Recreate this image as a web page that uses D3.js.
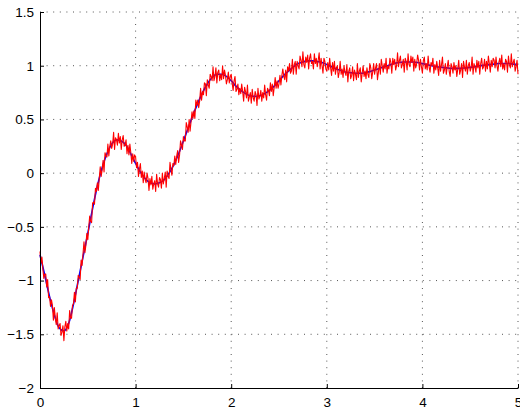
<!DOCTYPE html>
<html><head><meta charset="utf-8">
<script src="https://cdn.jsdelivr.net/npm/d3@7"></script>
<style>
html,body{margin:0;padding:0;background:#fff;}
svg{display:block;}
text{font-family:"Liberation Sans",Arial,Helvetica,sans-serif;font-size:13.5px;fill:#000;}
</style></head>
<body>
<svg id="chart" width="520" height="412"></svg>
<script>
// x-axis ticks and labels
const xTicks = [0, 1, 2, 3, 4, 5];
const xTickLabels = ["0", "1", "2", "3", "4", "5"];
// y-axis ticks and labels
const yTicks = [-2, -1.5, -1, -0.5, 0, 0.5, 1, 1.5];
const yTickLabels = ["\u22122", "\u22121.5", "\u22121", "\u22120.5", "0", "0.5", "1", "1.5"];

// smooth reference response (blue), sampled every 0.05 from t=0 to t=5
const blueStep = 0.05;
const blueValues = [
-0.76,-0.95,-1.15,-1.32,-1.44,-1.47,-1.40,-1.22,-1.00,-0.78,
-0.56,-0.33,-0.12,0.05,0.18,0.27,0.31,0.30,0.26,0.18,
0.09,0.01,-0.05,-0.09,-0.10,-0.09,-0.06,0.00,0.08,0.18,
0.30,0.42,0.54,0.65,0.75,0.83,0.89,0.92,0.92,0.90,
0.86,0.81,0.77,0.74,0.72,0.715,0.72,0.74,0.77,0.81,
0.86,0.91,0.95,0.99,1.02,1.035,1.045,1.045,1.04,1.03,
1.01,0.99,0.97,0.955,0.94,0.935,0.93,0.93,0.935,0.945,
0.96,0.975,0.99,1.005,1.02,1.03,1.035,1.035,1.035,1.03,
1.02,1.01,1.00,0.99,0.985,0.98,0.975,0.975,0.975,0.98,
0.985,0.99,1.00,1.005,1.01,1.015,1.02,1.02,1.02,1.015,
1.01];

// noisy measured response (red), sampled every 0.01 from t=0 to t=5
const redStep = 0.01;
const redValues = [
-0.73,-0.84,-0.78,-0.89,-0.98,-0.94,-0.94,-1.06,-0.99,-1.16,
-1.15,-1.24,-1.18,-1.23,-1.37,-1.25,-1.35,-1.41,-1.30,-1.45,
-1.42,-1.40,-1.51,-1.48,-1.42,-1.56,-1.43,-1.38,-1.47,-1.40,
-1.45,-1.28,-1.35,-1.35,-1.23,-1.22,-1.11,-1.20,-1.07,-1.07,
-0.95,-0.97,-0.99,-0.81,-0.86,-0.75,-0.64,-0.74,-0.67,-0.56,
-0.62,-0.50,-0.40,-0.45,-0.46,-0.28,-0.27,-0.29,-0.14,-0.17,
-0.09,-0.16,-0.05,0.06,-0.03,0.03,0.12,0.01,0.19,0.16,
0.15,0.27,0.16,0.25,0.30,0.23,0.27,0.38,0.22,0.33,
0.31,0.26,0.37,0.28,0.34,0.22,0.31,0.35,0.25,0.26,
0.31,0.18,0.26,0.17,0.27,0.19,0.09,0.18,0.11,0.17,
0.15,0.05,0.10,-0.03,0.04,0.09,-0.04,0.02,-0.09,0.01,
-0.06,-0.09,0.00,-0.05,-0.16,-0.05,-0.11,-0.03,-0.15,-0.10,
-0.07,-0.17,-0.01,-0.10,-0.13,-0.04,-0.06,-0.14,0.00,-0.10,
-0.05,0.01,-0.13,0.02,-0.03,-0.05,0.10,0.03,-0.02,0.09,
0.07,0.16,0.08,0.16,0.21,0.10,0.17,0.30,0.26,0.22,
0.34,0.30,0.30,0.47,0.43,0.38,0.50,0.39,0.48,0.57,
0.51,0.58,0.51,0.68,0.63,0.68,0.61,0.67,0.79,0.68,
0.76,0.73,0.84,0.83,0.72,0.87,0.82,0.79,0.92,0.90,
0.86,0.99,0.86,0.90,0.98,0.84,0.94,0.96,0.86,0.92,
0.87,1.00,0.88,0.96,0.91,0.83,0.87,0.94,0.84,0.90,
0.92,0.84,0.77,0.86,0.90,0.76,0.78,0.83,0.73,0.79,
0.74,0.83,0.76,0.67,0.80,0.76,0.70,0.82,0.67,0.71,
0.75,0.65,0.78,0.70,0.67,0.76,0.73,0.63,0.79,0.69,
0.72,0.77,0.67,0.75,0.70,0.82,0.73,0.68,0.79,0.77,
0.72,0.84,0.76,0.83,0.72,0.80,0.89,0.79,0.86,0.79,
0.83,0.91,0.82,0.91,0.97,0.90,0.87,0.96,0.85,0.99,
0.95,1.02,0.93,0.95,1.06,0.92,1.01,1.04,0.92,1.04,
1.00,0.97,1.09,1.05,0.99,1.13,1.01,0.98,1.08,1.03,
1.10,0.97,1.07,1.11,1.02,1.04,0.97,1.11,1.02,1.07,
0.99,1.05,1.12,0.97,1.07,1.00,0.93,1.07,1.04,0.97,
0.95,1.03,0.96,1.07,0.98,0.91,1.03,0.95,1.04,0.92,
0.98,1.00,0.89,0.94,1.04,0.92,0.97,0.89,1.00,0.94,
0.91,1.01,0.85,0.95,0.98,0.88,0.91,0.99,0.86,0.96,
0.92,0.87,1.02,0.89,0.95,0.98,0.85,0.93,1.00,0.90,
0.95,0.88,0.98,0.92,0.89,1.02,0.98,0.88,0.94,1.02,
0.92,0.98,1.02,0.87,0.94,1.02,0.92,1.06,1.00,0.94,
1.02,0.97,1.07,0.93,1.00,0.97,1.07,1.03,0.93,1.07,
1.01,1.06,0.96,1.00,1.12,0.99,1.05,1.09,0.98,1.01,
1.06,0.94,1.07,1.04,0.96,1.11,1.01,0.99,1.09,1.03,
1.08,0.95,1.06,0.98,1.02,1.10,1.05,0.96,1.06,0.99,
0.93,1.05,1.08,0.97,1.02,0.96,1.09,0.99,0.94,1.03,
1.00,1.07,0.93,1.01,0.96,1.04,0.98,0.91,1.05,0.95,
1.01,1.08,0.93,0.96,1.02,0.92,0.99,1.05,0.95,0.90,
1.02,0.99,0.93,1.03,0.96,1.00,0.90,0.97,1.05,0.92,
0.96,1.02,0.89,1.04,0.99,0.95,1.05,0.92,1.00,1.03,
0.95,0.98,1.08,0.92,1.02,0.99,0.94,1.05,0.98,1.04,
0.92,1.02,1.07,0.97,0.99,1.06,0.95,1.04,0.97,1.09,
1.02,0.94,1.05,0.99,1.07,1.05,0.98,1.08,1.00,0.95,
1.03,1.07,0.99,1.10,0.97,1.02,0.96,1.06,1.04,0.94,
1.09,1.01,0.98,1.11,0.99,1.03,1.06,0.95,0.99,1.05,
0.92];

const margin = {left: 40, right: 2, top: 12, bottom: 24};
const W = 520, H = 412;
const svg = d3.select("#chart");

const x = d3.scaleLinear().domain([0, 5]).range([margin.left, W - margin.right]);
const y = d3.scaleLinear().domain([-2, 1.5]).range([H - margin.bottom, margin.top]);

// grid
const grid = svg.append("g").attr("stroke", "#555").attr("stroke-width", 1)
  .attr("stroke-dasharray", "1,5.6").attr("fill", "none");
grid.selectAll("line.v").data(xTicks.filter(d => d > 0)).join("line")
  .attr("x1", d => x(d)).attr("x2", d => x(d))
  .attr("y1", y(-2)).attr("y2", y(1.5));
grid.selectAll("line.h").data(yTicks.filter(d => d > -2)).join("line")
  .attr("x1", x(0)).attr("x2", x(5))
  .attr("y1", d => y(d)).attr("y2", d => y(d));

// lines
const blueData = blueValues.map((v, i) => [i * blueStep, v]);
const redData = redValues.map((v, i) => [i * redStep, v]);
const lineB = d3.line().x(d => x(d[0])).y(d => y(d[1])).curve(d3.curveMonotoneX);
const lineR = d3.line().x(d => x(d[0])).y(d => y(d[1]));
svg.append("path").datum(blueData).attr("d", lineB)
  .attr("fill", "none").attr("stroke", "#0000ff").attr("stroke-width", 1.6);
svg.append("path").datum(redData).attr("d", lineR)
  .attr("fill", "none").attr("stroke", "#ff0000").attr("stroke-width", 1.1)
  .attr("stroke-linejoin", "round");

// axes
const xAxis = d3.axisBottom(x).tickValues(xTicks)
  .tickFormat((d, i) => xTickLabels[i]).tickSizeInner(-4).tickSizeOuter(0).tickPadding(9);
const yAxis = d3.axisLeft(y).tickValues(yTicks)
  .tickFormat((d, i) => yTickLabels[i]).tickSizeInner(-4).tickSizeOuter(0).tickPadding(9);

const gx = svg.append("g").attr("transform", `translate(0,${y(-2)})`).call(xAxis);
const gy = svg.append("g").attr("transform", `translate(${x(0)},0)`).call(yAxis);
[gx, gy].forEach(g => {
  g.selectAll("text").style("font-family", "'Liberation Sans',Arial,Helvetica,sans-serif")
    .style("font-size", "13.5px").attr("fill", "#000");
  g.select(".domain").attr("stroke", "#000").attr("stroke-width", 1);
  g.selectAll(".tick line").attr("stroke", "#000");
});
gx.selectAll("text").attr("dy", "0.71em").attr("y", 9);
gy.selectAll("text").attr("x", -6);
</script>
</body></html>
